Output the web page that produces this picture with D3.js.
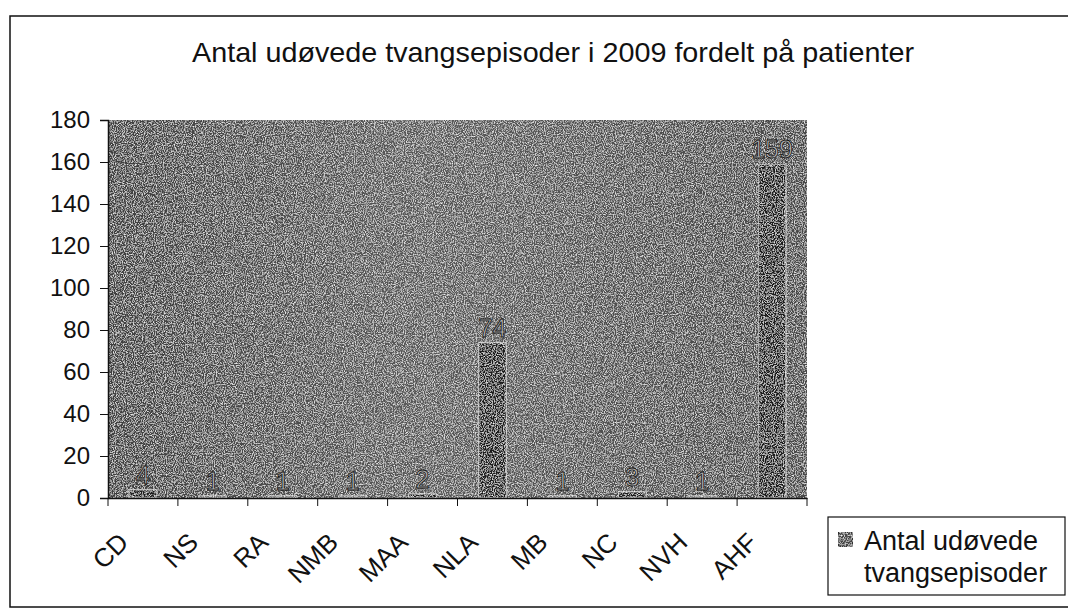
<!DOCTYPE html>
<html><head><meta charset="utf-8">
<script src="https://cdn.jsdelivr.net/npm/d3@7"></script>
<style>body{margin:0;background:#fff;}svg{display:block;font-family:"Liberation Sans",Arial,sans-serif;}</style>
</head><body>
<svg id="c" width="1068" height="615"></svg>
<script>
const title = "Antal udøvede tvangsepisoder i 2009 fordelt på patienter";
const categories = ["CD","NS","RA","NMB","MAA","NLA","MB","NC","NVH","AHF"];
const values = [4,1,1,1,2,74,1,3,1,159];
const yTicks = [0,20,40,60,80,100,120,140,160,180];
const seriesName = ["Antal udøvede","tvangsepisoder"];

const svg = d3.select("#c");
const defs = svg.append("defs");
const f = defs.append("filter").attr("id","noise").attr("x",0).attr("y",0).attr("width","100%").attr("height","100%");
f.append("feTurbulence").attr("type","fractalNoise").attr("baseFrequency",0.9).attr("numOctaves",2).attr("seed",3).attr("result","n");
f.append("feColorMatrix").attr("in","n").attr("type","matrix")
 .attr("values","0 0 0 0 1  0 0 0 0 1  0 0 0 0 1  2.0 0 0 0 -0.85").attr("result","w");
f.append("feComposite").attr("in","w").attr("in2","SourceGraphic").attr("operator","in").attr("result","wc");
f.append("feMerge").call(m=>{m.append("feMergeNode").attr("in","SourceGraphic");m.append("feMergeNode").attr("in","wc");});

const g = defs.append("linearGradient").attr("id","bg").attr("x1",0).attr("x2",1).attr("y1",0).attr("y2",0);
g.append("stop").attr("offset","0%").attr("stop-color","#3e3e3e");
g.append("stop").attr("offset","45%").attr("stop-color","#585858");
g.append("stop").attr("offset","100%").attr("stop-color","#474747");

const M = {l:108, r:807, t:120, b:498};
const x = d3.scaleBand().domain(categories).range([M.l, M.r]).paddingInner(0).paddingOuter(0);
const y = d3.scaleLinear().domain([0,180]).range([M.b, M.t]);

// outer frame
svg.append("rect").attr("x",10).attr("y",16).attr("width",1070).attr("height",591)
  .attr("fill","none").attr("stroke","#111").attr("stroke-width",1.5);

svg.append("text").attr("x",553).attr("y",62).attr("text-anchor","middle")
  .attr("font-size",28).attr("fill","#111").attr("textLength",722).attr("lengthAdjust","spacingAndGlyphs").text(title);

// plot area
svg.append("rect").attr("x",M.l).attr("y",M.t).attr("width",M.r-M.l).attr("height",M.b-M.t)
  .attr("fill","url(#bg)").attr("filter","url(#noise)");

// bars
svg.append("g").selectAll("rect").data(values).join("rect")
  .attr("x",(d,i)=>x(categories[i])+x.bandwidth()*0.3)
  .attr("width",x.bandwidth()*0.4)
  .attr("y",d=>y(d)).attr("height",d=>y(0)-y(d))
  .attr("fill","#1a1a1a").attr("stroke","#b0b0b0").attr("stroke-width",1.5).attr("filter","url(#noise)");

// data labels
svg.append("g").selectAll("text").data(values).join("text")
  .attr("x",(d,i)=>x(categories[i])+x.bandwidth()/2)
  .attr("y",d=>y(d)-6).attr("text-anchor","middle")
  .attr("font-size",25).attr("fill","#b4b4b4").attr("stroke","#111").attr("stroke-width",0.8)
  .text(d=>d);

// y axis
const ya = svg.append("g").attr("transform",`translate(${M.l},0)`)
  .call(d3.axisLeft(y).tickValues(yTicks).tickSize(8).tickPadding(10));
ya.select(".domain").attr("stroke","#111").attr("stroke-width",1.5);
ya.selectAll("line").attr("stroke","#111");
ya.selectAll("text").attr("font-size",24).attr("fill","#111").attr("font-family","Liberation Sans, Arial, sans-serif");

// x axis
const xa = svg.append("g").attr("transform",`translate(0,${M.b})`)
  .call(d3.axisBottom(x).tickSize(0).tickFormat(""));
xa.select(".domain").attr("stroke","#111").attr("stroke-width",1.5);
const edges = d3.range(categories.length+1).map(i=>M.l+i*x.step());
xa.append("g").selectAll("line").data(edges).join("line")
  .attr("x1",d=>d).attr("x2",d=>d).attr("y1",0).attr("y2",8).attr("stroke","#111");
xa.append("g").selectAll("text").data(categories).join("text")
  .attr("transform",d=>`translate(${x(d)+x.bandwidth()/2-13},${46}) rotate(-45)`)
  .attr("text-anchor","end").attr("font-size",26).attr("fill","#111")
  .attr("font-family","Liberation Sans, Arial, sans-serif").text(d=>d);

// legend
const lg = svg.append("g");
lg.append("rect").attr("x",828).attr("y",517).attr("width",237).attr("height",78)
  .attr("fill","#fff").attr("stroke","#111").attr("stroke-width",1.2);
lg.append("rect").attr("x",838).attr("y",532).attr("width",15).attr("height",15)
  .attr("fill","#444").attr("stroke","#222").attr("filter","url(#noise)");
lg.selectAll("text.l").data(seriesName).join("text").attr("class","l")
  .attr("x",864).attr("y",(d,i)=>550+i*32)
  .attr("font-size",27).attr("fill","#111").text(d=>d);
</script>
</body></html>
